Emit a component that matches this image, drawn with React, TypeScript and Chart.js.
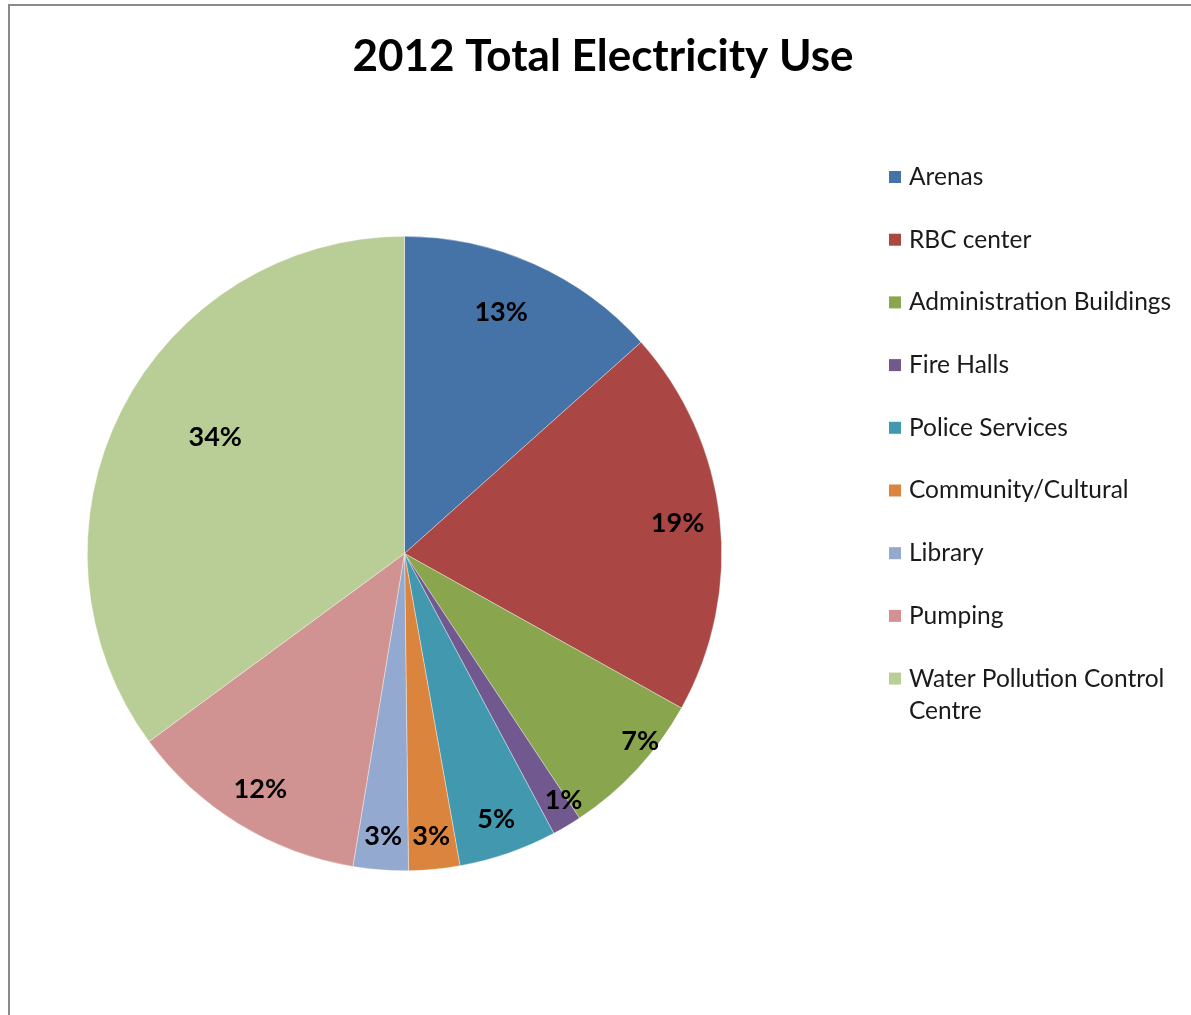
import React, { useEffect, useRef } from "react";
import { Chart, registerables } from "chart.js";

Chart.register(...registerables);

const TITLE = "2012 Total Electricity Use";
const categories = [
  "Arenas",
  "RBC center",
  "Administration Buildings",
  "Fire Halls",
  "Police Services",
  "Community/Cultural",
  "Library",
  "Pumping",
  "Water Pollution Control Centre",
];
const shares = [13.4, 19.7, 7.6, 1.5, 5.0, 2.6, 2.8, 12.3, 35.1];
const shareLabels = ["13%", "19%", "7%", "1%", "5%", "3%", "3%", "12%", "34%"];
const colors = [
  "#4572A7",
  "#AA4643",
  "#89A54E",
  "#71588F",
  "#4198AF",
  "#DB843D",
  "#93A9CF",
  "#D19392",
  "#B9CD96",
];

// label placement: fraction of radius and angular nudge (degrees)
const labelRadius = [0.82, 0.866, 0.95, 0.926, 0.885, 0.894, 0.894, 0.87, 0.7];
const labelAngleShift = [-2.3, 0, -4.3, -2, 0, 0, 0, 0, 4.7];

const FONT = "Lato, 'Open Sans', sans-serif";

const overlayPlugin = {
  id: "overlayText",
  afterDraw(chart: any) {
    const ctx = chart.ctx;
    ctx.save();
    // title
    ctx.fillStyle = "#000";
    ctx.font = `bold 44px ${FONT}`;
    ctx.textAlign = "center";
    ctx.textBaseline = "middle";
    ctx.fillText(TITLE, 603, 57);

    // slice labels
    const meta = chart.getDatasetMeta(0);
    ctx.font = `bold 27px ${FONT}`;
    meta.data.forEach((arc: any, i: number) => {
      const p = arc.getProps(["x", "y", "startAngle", "endAngle", "outerRadius"], true);
      const mid = (p.startAngle + p.endAngle) / 2 + (labelAngleShift[i] * Math.PI) / 180;
      const r = p.outerRadius * labelRadius[i];
      ctx.fillText(shareLabels[i], p.x + Math.cos(mid) * r, p.y + Math.sin(mid) * r);
    });

    // legend
    ctx.textAlign = "left";
    ctx.font = `24.5px ${FONT}`;
    const labels = chart.data.labels as string[];
    const maxW = 272;
    labels.forEach((lab, i) => {
      const y = 177 + i * 62.7;
      ctx.fillStyle = colors[i];
      ctx.fillRect(889, y - 6, 12, 12);
      ctx.fillStyle = "#1a1a1a";
      const words = lab.split(" ");
      const lines: string[] = [];
      let cur = "";
      words.forEach((w) => {
        const test = cur ? cur + " " + w : w;
        if (ctx.measureText(test).width > maxW && cur) {
          lines.push(cur);
          cur = w;
        } else cur = test;
      });
      lines.push(cur);
      lines.forEach((ln, k) => ctx.fillText(ln, 909, y + k * 32));
    });
    ctx.restore();
  },
};

export default function App() {
  const ref = useRef<HTMLCanvasElement>(null);
  useEffect(() => {
    if (!ref.current) return;
    const chart = new Chart(ref.current, {
      type: "pie",
      data: {
        labels: categories,
        datasets: [
          {
            data: shares,
            backgroundColor: colors,
            borderWidth: 0.6,
            borderColor: "rgba(255,255,255,0.6)",
          },
        ],
      },
      options: {
        responsive: false,
        animation: false,
        devicePixelRatio: 1,
        layout: { padding: { left: 87, right: 469, top: 236, bottom: 144 } },
        plugins: {
          legend: { display: false },
          title: { display: false },
          tooltip: { enabled: false },
        },
      },
      plugins: [overlayPlugin],
    });
    return () => chart.destroy();
  }, []);

  return (
    <div style={{ position: "absolute", left: 0, top: 0, width: 1191, height: 1015, overflow: "hidden", background: "#fff" }}>
      <div
        style={{
          position: "absolute",
          left: 8,
          top: 4,
          width: 1300,
          height: 1100,
          borderLeft: "2px solid #8a8a8a",
          borderTop: "2px solid #8a8a8a",
        }}
      />
      <canvas ref={ref} width={1191} height={1015} style={{ position: "absolute", left: 0, top: 0, display: "block" }} />
    </div>
  );
}
